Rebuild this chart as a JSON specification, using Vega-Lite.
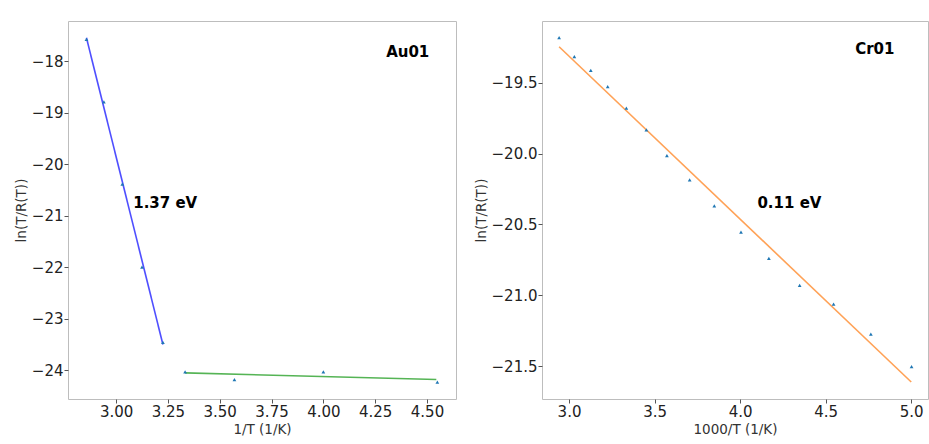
{
  "$schema": "https://vega.github.io/schema/vega-lite/v6.json",
  "padding": {"left": 13, "top": 20, "right": 0, "bottom": 0},
  "background": "white",
  "bounds": "flush",
  "spacing": 86,
  "config": {
    "view": {"stroke": "#bdbdbd", "strokeWidth": 1},
    "axis": {
      "domain": false,
      "grid": false,
      "tickColor": "#555555",
      "tickSize": 4,
      "labelPadding": 1,
      "labelFont": "DejaVu Sans",
      "labelFontSize": 15,
      "labelColor": "#222222",
      "titleFont": "DejaVu Sans",
      "titleFontSize": 13.5,
      "titleFontWeight": "normal",
      "titleColor": "#333333"
    },
    "text": {"font": "DejaVu Sans", "fontWeight": "bold", "fontSize": 15}
  },
  "datasets": {
    "au_pts": [
      {"x": 2.857, "y": -17.58},
      {"x": 2.941, "y": -18.795},
      {"x": 3.030, "y": -20.39},
      {"x": 3.125, "y": -22.0},
      {"x": 3.226, "y": -23.46},
      {"x": 3.333, "y": -24.03},
      {"x": 3.571, "y": -24.18},
      {"x": 4.0, "y": -24.03},
      {"x": 4.55, "y": -24.23}
    ],
    "au_fit": [
      {"x": 2.857, "y": -17.55, "seg": "high"},
      {"x": 3.226, "y": -23.5, "seg": "high"},
      {"x": 3.333, "y": -24.05, "seg": "low"},
      {"x": 4.545, "y": -24.18, "seg": "low"}
    ],
    "au_lab": [
      {"x": 4.407, "y": -17.825, "label": "Au01"},
      {"x": 3.237, "y": -20.755, "label": "1.37 eV"}
    ],
    "cr_pts": [
      {"x": 2.942, "y": -19.182},
      {"x": 3.031, "y": -19.316},
      {"x": 3.127, "y": -19.412},
      {"x": 3.226, "y": -19.528},
      {"x": 3.335, "y": -19.679},
      {"x": 3.452, "y": -19.832},
      {"x": 3.572, "y": -20.014},
      {"x": 3.705, "y": -20.185},
      {"x": 3.849, "y": -20.369},
      {"x": 4.005, "y": -20.555},
      {"x": 4.168, "y": -20.740},
      {"x": 4.348, "y": -20.931},
      {"x": 4.546, "y": -21.063},
      {"x": 4.764, "y": -21.275},
      {"x": 5.002, "y": -21.505}
    ],
    "cr_fit": [
      {"x": 2.942, "y": -19.246},
      {"x": 5.0, "y": -21.613}
    ],
    "cr_lab": [
      {"x": 4.787, "y": -19.262, "label": "Cr01"},
      {"x": 4.288, "y": -20.35, "label": "0.11 eV"}
    ]
  },
  "hconcat": [
    {
      "width": 388,
      "height": 378,
      "layer": [
        {
          "data": {"name": "au_fit"},
          "mark": {"type": "line", "strokeWidth": 1.6},
          "encoding": {
            "x": {"field": "x", "type": "quantitative"},
            "y": {"field": "y", "type": "quantitative"},
            "color": {"field": "seg", "type": "nominal", "scale": {"domain": ["high", "low"], "range": ["#4f4fff", "#55b455"]}, "legend": null}
          }
        },
        {
          "data": {"name": "au_pts"},
          "mark": {"type": "point", "shape": "triangle-up", "filled": true, "size": 14, "color": "#1f77b4", "opacity": 1},
          "encoding": {
            "x": {"field": "x", "type": "quantitative", "title": "1/T (1/K)", "scale": {"domain": [2.768, 4.64], "nice": false, "zero": false}, "axis": {"values": [3.0, 3.25, 3.5, 3.75, 4.0, 4.25, 4.5], "format": ".2f", "titlePadding": 3}},
            "y": {"field": "y", "type": "quantitative", "title": "ln(T/R(T))", "scale": {"domain": [-24.557, -17.224], "nice": false, "zero": false}, "axis": {"values": [-24, -23, -22, -21, -20, -19, -18], "format": "d", "titlePadding": 3}}
          }
        },
        {
          "data": {"name": "au_lab"},
          "mark": {"type": "text", "align": "center", "baseline": "middle", "color": "black"},
          "encoding": {
            "x": {"field": "x", "type": "quantitative"},
            "y": {"field": "y", "type": "quantitative"},
            "text": {"field": "label"}
          }
        }
      ]
    },
    {
      "width": 386,
      "height": 378,
      "layer": [
        {
          "data": {"name": "cr_fit"},
          "mark": {"type": "line", "strokeWidth": 1.6, "color": "#ffa257"},
          "encoding": {
            "x": {"field": "x", "type": "quantitative"},
            "y": {"field": "y", "type": "quantitative"}
          }
        },
        {
          "data": {"name": "cr_pts"},
          "mark": {"type": "point", "shape": "triangle-up", "filled": true, "size": 14, "color": "#1f77b4", "opacity": 1},
          "encoding": {
            "x": {"field": "x", "type": "quantitative", "title": "1000/T (1/K)", "scale": {"domain": [2.842, 5.098], "nice": false, "zero": false}, "axis": {"values": [3.0, 3.5, 4.0, 4.5, 5.0], "format": ".1f", "titlePadding": 3}},
            "y": {"field": "y", "type": "quantitative", "title": "ln(T/R(T))", "scale": {"domain": [-21.733, -19.064], "nice": false, "zero": false}, "axis": {"values": [-21.5, -21.0, -20.5, -20.0, -19.5], "format": ".1f", "titlePadding": 3}}
          }
        },
        {
          "data": {"name": "cr_lab"},
          "mark": {"type": "text", "align": "center", "baseline": "middle", "color": "black"},
          "encoding": {
            "x": {"field": "x", "type": "quantitative"},
            "y": {"field": "y", "type": "quantitative"},
            "text": {"field": "label"}
          }
        }
      ]
    }
  ]
}
